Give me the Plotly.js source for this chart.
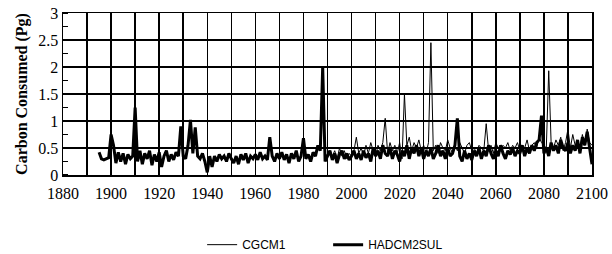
<!DOCTYPE html>
<html>
<head>
<meta charset="utf-8">
<script src="https://cdn.plot.ly/plotly-3.0.1.min.js"></script>
<style>html,body{margin:0;padding:0;background:#fff;}#chart{width:612px;height:254px;}</style>
</head>
<body>
<div id="chart"></div>
<script>
// HADCM2SUL: annual values 1895-2100
const hadYears = [];
for (let y = 1895; y <= 2100; y++) hadYears.push(y);
const hadcm2sul = [
0.42,0.30,0.28,0.30,0.32,
0.75,0.55,0.22,0.42,0.25,0.40,0.20,0.38,0.30,0.35,
1.25,0.25,0.45,0.20,0.40,0.30,0.45,0.18,0.38,0.25,
0.42,0.15,0.35,0.45,0.25,0.38,0.28,0.42,0.35,0.90,
0.35,0.30,0.55,1.02,0.40,0.88,0.35,0.30,0.40,0.25,
0.05,0.35,0.15,0.35,0.25,0.38,0.30,0.35,0.25,0.40,
0.30,0.22,0.35,0.20,0.38,0.28,0.40,0.22,0.35,0.30,
0.38,0.28,0.42,0.30,0.35,0.28,0.70,0.35,0.25,0.40,
0.30,0.42,0.28,0.38,0.22,0.40,0.30,0.45,0.25,0.35,
0.68,0.30,0.38,0.25,0.42,0.35,0.55,0.45,2.00,0.25,
0.35,0.45,0.28,0.40,0.22,0.38,0.45,0.30,0.40,0.28,
0.35,0.45,0.30,0.40,0.28,0.45,0.32,0.40,0.25,0.50,
0.35,0.45,0.30,0.55,0.40,0.35,0.50,0.30,0.45,0.38,
0.25,0.45,0.35,0.55,0.30,0.50,0.40,0.55,0.35,0.50,
0.30,0.45,0.35,0.50,0.30,0.40,0.55,0.35,0.45,0.30,
0.50,0.35,0.40,0.55,1.05,0.35,0.25,0.45,0.30,0.40,
0.28,0.45,0.35,0.50,0.30,0.45,0.35,0.55,0.40,0.30,
0.45,0.35,0.55,0.40,0.30,0.45,0.38,0.50,0.35,0.45,
0.40,0.55,0.35,0.50,0.40,0.55,0.45,0.60,0.65,1.10,
0.40,0.50,0.35,0.60,0.45,0.55,0.40,0.65,0.50,0.45,
0.60,0.40,0.55,0.45,0.65,0.40,0.70,0.55,0.80,0.45,
0.20
];
// CGCM1: annual values 1991-2100
const cgcYears = [];
for (let y = 1991; y <= 2100; y++) cgcYears.push(y);
const cgcm1 = [
0.40,0.35,0.45,0.30,0.50,0.35,0.45,0.30,0.40,
0.35,0.45,0.70,0.40,0.50,0.35,0.55,0.40,0.60,0.45,
0.35,0.55,0.45,0.60,1.05,0.40,0.60,0.45,0.55,0.40,
0.60,0.30,1.50,0.55,0.70,0.45,0.60,0.50,0.65,0.45,
0.55,0.40,0.60,2.45,0.45,0.55,0.40,0.60,0.50,0.45,
0.65,0.50,0.40,0.55,0.45,0.60,0.50,0.40,0.55,0.60,
0.45,0.50,0.40,0.55,0.50,0.45,0.95,0.45,0.55,0.40,
0.60,0.50,0.45,0.55,0.50,0.60,0.45,0.55,0.50,0.60,
0.45,0.55,0.50,0.65,0.45,0.55,0.60,0.50,0.70,0.60,
0.55,0.50,1.93,0.60,0.50,0.65,0.55,0.70,0.45,0.60,
0.85,0.50,0.75,0.55,0.60,0.50,0.75,0.55,0.85,0.60,
0.55
];
const seriesNames = ['CGCM1', 'HADCM2SUL'];
const xTickVals = [1880,1890,1900,1910,1920,1930,1940,1950,1960,1970,1980,1990,2000,2010,2020,2030,2040,2050,2060,2070,2080,2090,2100];
const xTickText = ['1880','','1900','','1920','','1940','','1960','','1980','','2000','','2020','','2040','','2060','','2080','','2100'];
const yTickVals = [0, 0.5, 1, 1.5, 2, 2.5, 3];
const yTickText = ['0', '0.5', '1', '1.5', '2', '2.5', '3'];

const serif = 'Liberation Serif, Times New Roman, serif';
const traces = [
  {x: cgcYears, y: cgcm1, name: seriesNames[0], type: 'scatter', mode: 'lines',
   line: {color: '#000', width: 1}},
  {x: hadYears, y: hadcm2sul, name: seriesNames[1], type: 'scatter', mode: 'lines',
   line: {color: '#000', width: 3}}
];
const layout = {
  width: 612, height: 254,
  margin: {l: 63, r: 20, t: 13, b: 79, autoexpand: false},
  paper_bgcolor: '#fff', plot_bgcolor: '#fff',
  showlegend: true,
  legend: {orientation: 'h', x: 0.263, xanchor: 'left', y: -0.43, yanchor: 'middle',
    font: {family: 'Liberation Sans, Arial, sans-serif', size: 12, color: '#000'},
    entrywidth: 81, entrywidthmode: 'pixels', tracegroupgap: 0},
  xaxis: {range: [1880, 2100], tickvals: xTickVals, ticktext: xTickText, showgrid: true,
    gridcolor: '#000', gridwidth: 1.5, zeroline: false,
    showline: true, linecolor: '#000', linewidth: 1.5, mirror: true, ticks: '',
    ticklabelstandoff: 3,
    tickfont: {family: serif, size: 16, color: '#000'}},
  yaxis: {range: [0, 3], tickvals: yTickVals, ticktext: yTickText, showgrid: true,
    gridcolor: '#000', gridwidth: 1.5, zeroline: false,
    showline: true, linecolor: '#000', linewidth: 1.5, mirror: true, ticks: '',
    tickfont: {family: serif, size: 16, color: '#000'},
    minor: {dtick: 0.25, tick0: 0, ticks: 'inside', ticklen: 5, tickcolor: '#000', tickwidth: 1.5, showgrid: false},
    title: {text: 'Carbon Consumed (Pg)', standoff: 6,
      font: {family: serif, size: 16, color: '#000', weight: 'bold'}}}
};
Plotly.newPlot('chart', traces, layout, {staticPlot: true, displayModeBar: false});
</script>
</body>
</html>
